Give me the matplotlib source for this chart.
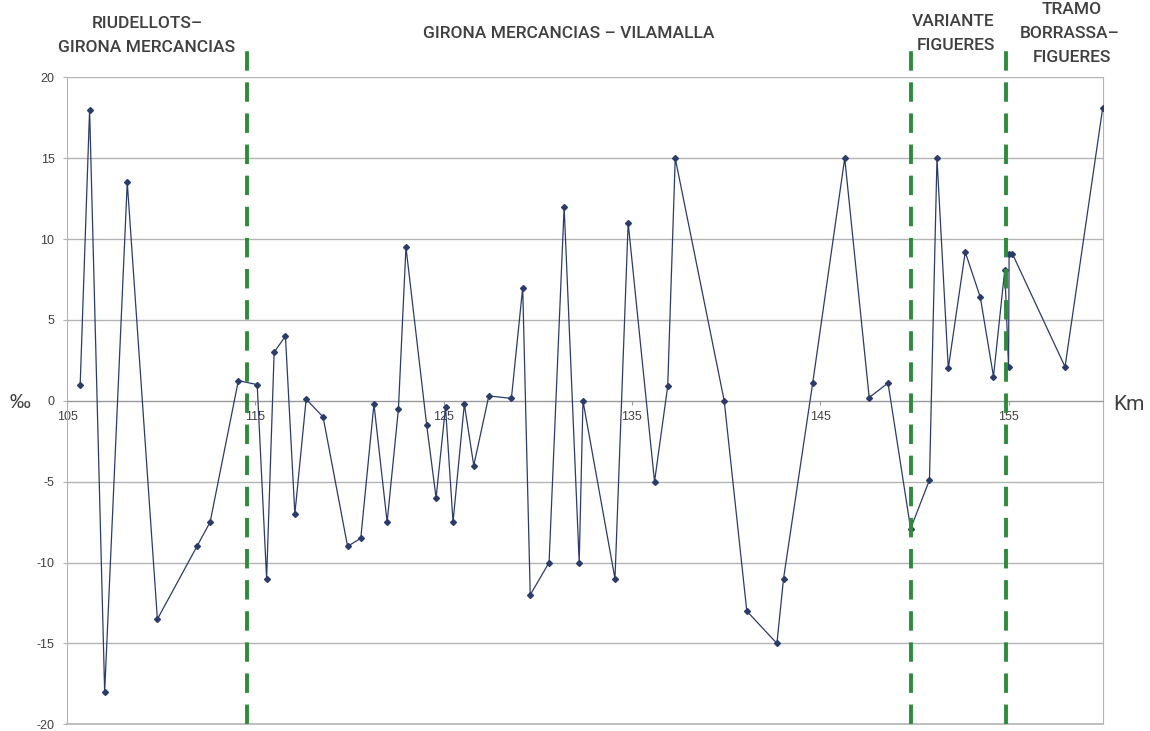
import matplotlib
matplotlib.use("Agg")
import matplotlib.pyplot as plt

# gradient profile (per mille) against kilometre point
km = [105.7, 106.2, 107.0, 108.2, 109.8, 111.9, 112.6, 114.1, 115.1, 115.6,
      116.0, 116.6, 117.1, 117.7, 118.6, 119.9, 120.6, 121.3, 122.0, 122.6,
      123.0, 124.1, 124.6, 125.1, 125.5, 126.1, 126.6, 127.4, 128.6, 129.2,
      129.6, 130.6, 131.4, 132.2, 132.4, 134.1, 134.8, 136.2, 136.9, 137.3,
      139.9, 141.1, 142.7, 143.05, 144.6, 146.3, 147.6, 148.6, 149.8, 150.8,
      151.2, 151.8, 152.7, 153.5, 154.2, 154.8, 155.0, 155.03, 155.2, 158.0,
      160.0]
gradient = [1.0, 18.0, -18.0, 13.5, -13.5, -9.0, -7.5, 1.25, 1.0, -11.0,
            3.0, 4.0, -7.0, 0.1, -1.0, -9.0, -8.5, -0.2, -7.5, -0.5,
            9.5, -1.5, -6.0, -0.4, -7.5, -0.2, -4.0, 0.3, 0.15, 7.0,
            -12.0, -10.0, 12.0, -10.0, 0.0, -11.0, 11.0, -5.0, 0.9, 15.0,
            0.0, -13.0, -15.0, -11.0, 1.1, 15.0, 0.2, 1.1, -7.9, -4.9,
            15.0, 2.0, 9.2, 6.4, 1.5, 8.1, 2.1, 9.1, 9.1, 2.1,
            18.1]

section_limits = [114.55, 149.8, 154.85]
x_ticks = [105, 115, 125, 135, 145, 155]
y_ticks = [-20, -15, -10, -5, 0, 5, 10, 15, 20]

LINE = "#2c3c6a"
GREEN = "#2e8b3c"
TEXT = "#404040"
GRID = "#b4b4b4"

plt.rcParams["font.family"] = ["Liberation Sans", "DejaVu Sans"]
plt.rcParams["axes.unicode_minus"] = False
NARROW = ["Roboto", "Liberation Sans", "DejaVu Sans"]

W, H = 1150, 731
fig = plt.figure(figsize=(W / 100, H / 100), dpi=100)
ax = fig.add_axes([67 / W, 1 - 724.3 / H, (1102.7 - 67) / W, (724.3 - 77.3) / H])

ax.set_xlim(105, 160)
ax.set_ylim(-20, 20)
ax.set_yticks(y_ticks)
ax.set_xticks(x_ticks)
ax.yaxis.grid(True, color=GRID, linewidth=1.0)
ax.set_axisbelow(True)
ax.axhline(-20, color=GRID, linewidth=1.2, clip_on=False, zorder=1)

ax.spines["top"].set_visible(False)
ax.spines["left"].set_color(GRID)
ax.spines["right"].set_color(GRID)
ax.spines["bottom"].set_position(("data", 0))
ax.spines["bottom"].set_color("#9a9a9a")
ax.tick_params(axis="y", length=3, color=GRID, pad=6, labelsize=9, labelcolor=TEXT)
ax.tick_params(axis="x", length=3, color="#9a9a9a", pad=4, labelsize=9, labelcolor=TEXT)

ax.plot(km, gradient, color=LINE, linewidth=0.9, marker="D", markersize=3,
        markerfacecolor=LINE, markeredgecolor=LINE, zorder=3)

tops = [1.045, 1.055, 1.055]
for xv, top in zip(section_limits, tops):
    ax.axvline(xv, ymin=0.0, ymax=top, color=GREEN, linewidth=2.8,
               dashes=(5, 3), clip_on=False, zorder=4)


def ftext(x, y, s, size=12.5):
    fig.text(x / W, 1 - y / H, s, ha="center", va="center", color=TEXT,
             family=NARROW, fontsize=size, fontweight="medium")


ftext(147, 23, "RIUDELLOTS–")
ftext(147, 47, "GIRONA MERCANCIAS")
ftext(569, 33, "GIRONA MERCANCIAS – VILAMALLA")
ftext(953, 22, "VARIANTE")
ftext(956, 46, "FIGUERES")
ftext(1072, 9, "TRAMO")
ftext(1070, 33, "BORRASSA–")
ftext(1072, 57, "FIGUERES")

fig.text(20 / W, 1 - 403 / H, "‰", ha="center", va="center", color=TEXT, fontsize=15)
fig.text(1129 / W, 1 - 405 / H, "Km", ha="center", va="center", color=TEXT,
         family=NARROW, fontsize=15)

fig.savefig("out.png", dpi=100)
